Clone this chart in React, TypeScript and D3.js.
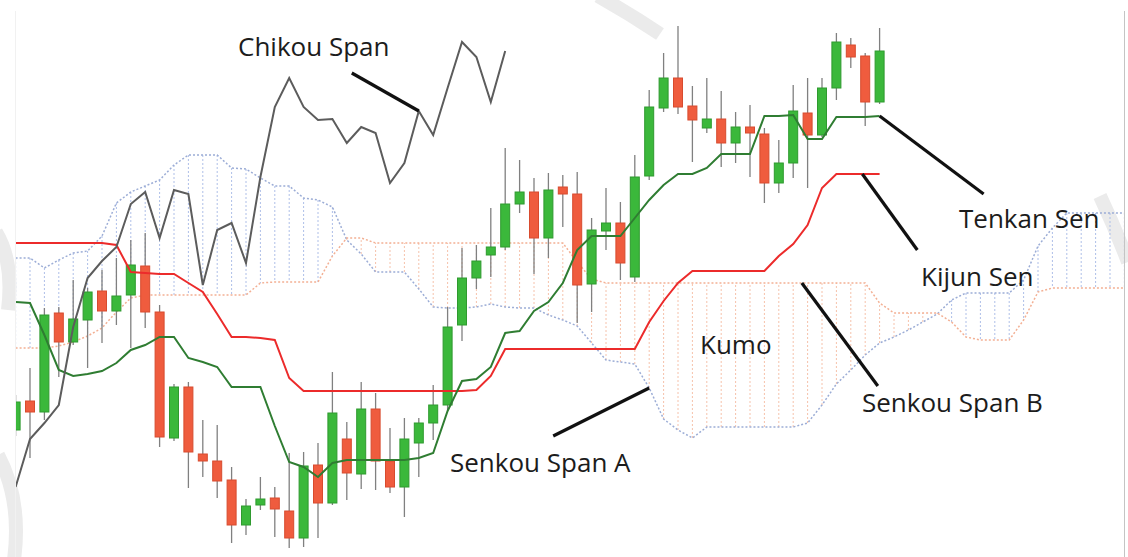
import { useEffect, useRef } from "react";
import * as d3 from "d3";

// candles, price units (index = period)
const opens = [13.0, 15.9, 14.8, 24.7, 21.8, 24.0, 26.9, 24.9, 26.5, 29.4, 24.8, 12.2, 17.3, 10.6, 9.9, 8.0, 3.5, 5.5, 6.2, 4.9, 2.2, 9.5, 5.7, 12.1, 8.6, 15.1, 9.9, 7.3, 11.7, 13.7, 15.5, 23.5, 28.2, 30.5, 31.3, 35.6, 36.8, 32.2, 37.3, 36.6, 27.6, 32.9, 33.7, 28.3, 38.4, 45.2, 48.2, 45.4, 43.2, 44.1, 41.7, 43.3, 42.6, 37.7, 39.7, 44.7, 42.5, 47.2, 51.5, 50.4, 45.8];
const highs = [16.5, 19.2, 25.2, 25.3, 28.0, 27.2, 29.0, 30.2, 32.0, 32.7, 25.5, 17.6, 17.8, 14.0, 13.5, 9.3, 6.1, 8.3, 7.3, 10.7, 10.8, 11.7, 18.8, 13.8, 17.8, 16.7, 13.2, 14.2, 14.2, 17.5, 25.3, 31.2, 31.5, 35.2, 41.2, 40.0, 38.2, 38.7, 38.5, 38.8, 34.2, 37.2, 35.8, 40.5, 47.0, 50.7, 53.4, 47.4, 48.2, 46.9, 44.8, 45.5, 43.2, 42.0, 47.5, 48.2, 48.2, 52.7, 52.2, 50.7, 53.2];
const lows = [12.4, 10.2, 14.0, 18.3, 21.5, 19.2, 21.7, 23.5, 21.2, 23.2, 11.3, 11.9, 7.2, 8.3, 6.2, 1.7, 2.5, 5.0, 2.3, 1.2, 1.3, 2.2, 5.5, 6.0, 7.1, 7.0, 6.7, 4.3, 8.3, 12.0, 15.0, 21.9, 27.1, 28.3, 31.0, 34.7, 28.6, 30.2, 33.3, 23.7, 24.8, 31.0, 28.0, 27.8, 38.0, 44.8, 44.6, 39.8, 42.7, 39.3, 39.7, 38.3, 35.7, 36.7, 38.2, 37.2, 42.3, 46.0, 49.2, 43.4, 45.6];
const closes = [15.8, 14.8, 24.5, 21.8, 24.1, 26.8, 24.9, 26.4, 29.5, 24.8, 12.3, 17.3, 10.8, 9.9, 7.9, 3.5, 5.4, 6.1, 5.1, 2.2, 9.4, 5.7, 14.7, 8.7, 15.1, 9.9, 7.3, 12.1, 13.7, 15.5, 23.3, 28.2, 29.9, 31.3, 35.6, 36.8, 32.2, 37.0, 36.6, 27.5, 33.0, 33.7, 29.7, 38.3, 45.3, 48.2, 45.3, 44.0, 44.1, 41.7, 43.3, 42.7, 37.7, 39.7, 44.9, 42.5, 47.2, 51.8, 50.3, 45.8, 50.9];

const tenkan = [25.8, 25.7, 22.5, 19.0, 18.4, 18.6, 18.9, 19.7, 21.0, 21.5, 22.3, 22.3, 20.2, 19.8, 19.3, 17.3, 17.3, 17.3, 13.4, 9.8, 9.3, 8.3, 9.7, 10.0, 10.0, 10.0, 10.0, 10.0, 10.2, 10.7, 14.9, 17.9, 18.1, 19.3, 22.7, 22.9, 24.9, 25.8, 27.7, 31.0, 32.4, 32.4, 32.4, 34.2, 36.0, 37.5, 38.6, 38.6, 39.2, 40.6, 40.6, 40.6, 44.4, 44.4, 44.5, 42.1, 42.1, 44.3, 44.3, 44.3, 44.4];
const kijun = [31.7, 31.7, 31.7, 31.7, 31.7, 31.7, 31.7, 31.5, 28.8, 28.7, 28.6, 28.6, 27.7, 26.8, 24.6, 22.3, 22.3, 22.2, 22.0, 18.2, 16.9, 16.9, 16.9, 16.9, 16.9, 16.9, 16.9, 16.9, 16.9, 16.9, 16.9, 16.9, 17.0, 18.4, 21.1, 21.1, 21.1, 21.1, 21.1, 21.1, 21.1, 21.1, 21.1, 21.1, 23.8, 25.9, 27.7, 28.9, 28.9, 28.9, 28.9, 28.9, 28.9, 30.4, 31.6, 33.5, 37.2, 38.6, 38.6, 38.6, 38.6];
const senkouA = [30.2, 30.2, 29.2, 30.0, 30.7, 30.9, 32.4, 35.7, 36.8, 37.4, 38.0, 39.5, 40.5, 40.5, 40.5, 39.2, 39.1, 38.2, 37.4, 37.4, 36.2, 36.0, 35.3, 32.0, 30.6, 28.8, 28.8, 28.8, 27.1, 25.3, 25.2, 25.2, 25.3, 25.6, 25.3, 25.2, 25.2, 24.5, 24.0, 23.4, 21.7, 20.0, 19.8, 19.6, 17.2, 14.1, 13.0, 12.2, 13.3, 13.3, 13.3, 13.3, 13.3, 13.3, 13.3, 13.7, 15.5, 17.6, 19.0, 20.5, 21.7, 22.3, 23.0, 23.8, 24.6, 26.0, 26.7, 26.7, 26.7, 26.7, 28.0, 31.4, 33.2, 34.7, 34.7, 34.7, 34.7, 34.7];
const senkouB = [21.2, 21.2, 21.2, 21.4, 21.8, 22.4, 23.2, 24.8, 26.2, 26.5, 26.5, 26.5, 26.5, 26.5, 26.5, 26.5, 26.5, 27.7, 27.8, 27.8, 27.8, 27.8, 30.4, 32.2, 32.2, 31.7, 31.7, 31.7, 31.7, 31.7, 31.7, 31.7, 31.7, 31.7, 31.7, 31.7, 31.7, 31.7, 31.7, 29.8, 28.1, 27.7, 27.7, 27.7, 27.7, 27.7, 27.7, 27.7, 27.7, 27.7, 27.7, 27.7, 27.7, 27.7, 27.7, 27.7, 27.7, 27.7, 27.7, 27.7, 25.7, 24.7, 24.7, 24.7, 24.7, 23.8, 22.3, 22.0, 22.0, 22.0, 24.0, 26.8, 27.2, 27.2, 27.2, 27.2, 27.2, 27.2];

// chikou span = close plotted 26 periods back
const CHIKOU_LAG = 26;

const W = 1128;
const H = 557;

export default function App() {
    const svgRef = useRef<SVGSVGElement>(null);

    useEffect(() => {
        const svg = d3.select(svgRef.current);
        svg.selectAll("*").remove();

        const xScale = d3.scaleLinear().domain([0, 77]).range([15.6, 1124.4]);
        const yScale = d3.scaleLinear().domain([0, 56]).range([560, 0]);

        // faint watermark bits behind everything
        const wm = svg.append("g").attr("fill", "none").attr("stroke", "#ebebeb").attr("stroke-width", 14);
        wm.append("path").attr("d", "M -4 232 Q 14 262 8 310");
        wm.append("path").attr("d", "M -2 455 Q 22 500 14 560");
        wm.append("path").attr("d", "M 598 -4 Q 630 14 660 34");
        wm.append("path").attr("d", "M 1100 196 Q 1116 230 1128 262");

        // frame
        svg.append("line").attr("x1", 1124.5).attr("x2", 1124.5).attr("y1", 11).attr("y2", H)
            .attr("stroke", "#c4c4c4").attr("stroke-width", 1);
        svg.append("line").attr("x1", 15.5).attr("x2", 15.5).attr("y1", 11).attr("y2", H)
            .attr("stroke", "#f1f1f1").attr("stroke-width", 1);

        svg.append("defs").append("clipPath").attr("id", "plot")
            .append("rect").attr("x", 16).attr("y", 11).attr("width", 1108).attr("height", H - 11);

        const plot = svg.append("g").attr("clip-path", "url(#plot)");

        // kumo hatch
        const idx = d3.range(senkouA.length);
        plot.append("g").selectAll("line").data(idx).join("line")
            .attr("x1", (i) => xScale(i)).attr("x2", (i) => xScale(i))
            .attr("y1", (i) => yScale(senkouA[i])).attr("y2", (i) => yScale(senkouB[i]))
            .attr("stroke", (i) => (senkouA[i] >= senkouB[i] ? "#aebfe8" : "#f6c2ab"))
            .attr("stroke-width", 1)
            .attr("stroke-dasharray", "2,2");

        const spanLine = d3.line<number>().x((d, i) => xScale(i)).y((d) => yScale(d));

        plot.append("path").datum(senkouA).attr("d", spanLine)
            .attr("fill", "none").attr("stroke", "#9cadd6").attr("stroke-width", 1.5)
            .attr("stroke-dasharray", "2,2");
        plot.append("path").datum(senkouB).attr("d", spanLine)
            .attr("fill", "none").attr("stroke", "#f3b094").attr("stroke-width", 1.5)
            .attr("stroke-dasharray", "2,2");

        // candles
        const candles = d3.range(opens.length);
        const bodyW = 9;
        const g = plot.append("g");
        g.selectAll(".wick").data(candles).join("line")
            .attr("class", "wick")
            .attr("x1", (i) => xScale(i)).attr("x2", (i) => xScale(i))
            .attr("y1", (i) => yScale(highs[i])).attr("y2", (i) => yScale(lows[i]))
            .attr("stroke", "#808080").attr("stroke-width", 1.3);
        g.selectAll(".body").data(candles).join("rect")
            .attr("class", "body")
            .attr("x", (i) => xScale(i) - bodyW / 2)
            .attr("width", bodyW)
            .attr("y", (i) => yScale(Math.max(opens[i], closes[i])))
            .attr("height", (i) => Math.max(2, Math.abs(yScale(opens[i]) - yScale(closes[i]))))
            .attr("fill", (i) => (closes[i] >= opens[i] ? "#3bb83b" : "#ef5c3e"))
            .attr("stroke", (i) => (closes[i] >= opens[i] ? "#2f9a2f" : "#d84b2e"))
            .attr("stroke-width", 1);

        // lines
        plot.append("path").datum(kijun).attr("d", spanLine)
            .attr("fill", "none").attr("stroke", "#ec2b2b").attr("stroke-width", 2);
        plot.append("path").datum(tenkan).attr("d", spanLine)
            .attr("fill", "none").attr("stroke", "#2f7d32").attr("stroke-width", 2);
        const chikou = closes.slice(CHIKOU_LAG);
        plot.append("path").datum(chikou).attr("d", spanLine)
            .attr("fill", "none").attr("stroke", "#5c5c5c").attr("stroke-width", 2);

        // annotations: pointer tip sits on the series, tail is an offset
        const pointers = [
            { tip: [xScale(28), yScale(chikou[28])], dx: -67, dy: -38 },
            { tip: [xScale(60), yScale(tenkan[60])], dx: 104, dy: 78 },
            { tip: [xScale(58.8), yScale(kijun[58])], dx: 55, dy: 76 },
            { tip: [xScale(54.6), yScale(senkouB[55])], dx: 76, dy: 103 },
            { tip: [xScale(44), yScale(senkouA[44])], dx: -96, dy: 48 },
        ];
        svg.append("g").selectAll("line").data(pointers).join("line")
            .attr("x1", (p) => p.tip[0]).attr("y1", (p) => p.tip[1])
            .attr("x2", (p) => p.tip[0] + p.dx).attr("y2", (p) => p.tip[1] + p.dy)
            .attr("stroke", "#111").attr("stroke-width", 3.2);

        const labels = [
            { text: "Chikou Span", x: 238, y: 56 },
            { text: "Tenkan Sen", x: 959, y: 228 },
            { text: "Kijun Sen", x: 921, y: 286 },
            { text: "Kumo", x: 700, y: 354 },
            { text: "Senkou Span B", x: 862, y: 412 },
            { text: "Senkou Span A", x: 450, y: 472 },
        ];
        svg.append("g").selectAll("text").data(labels).join("text")
            .attr("x", (d) => d.x).attr("y", (d) => d.y)
            .attr("font-family", "'Open Sans', sans-serif")
            .attr("font-size", 26)
            .attr("fill", "#1c1c1c")
            .text((d) => d.text);
    }, []);

    return (
        <svg
            ref={svgRef}
            width={W}
            height={H}
            style={{ position: "absolute", left: 0, top: 0, background: "#fff" }}
        />
    );
}
